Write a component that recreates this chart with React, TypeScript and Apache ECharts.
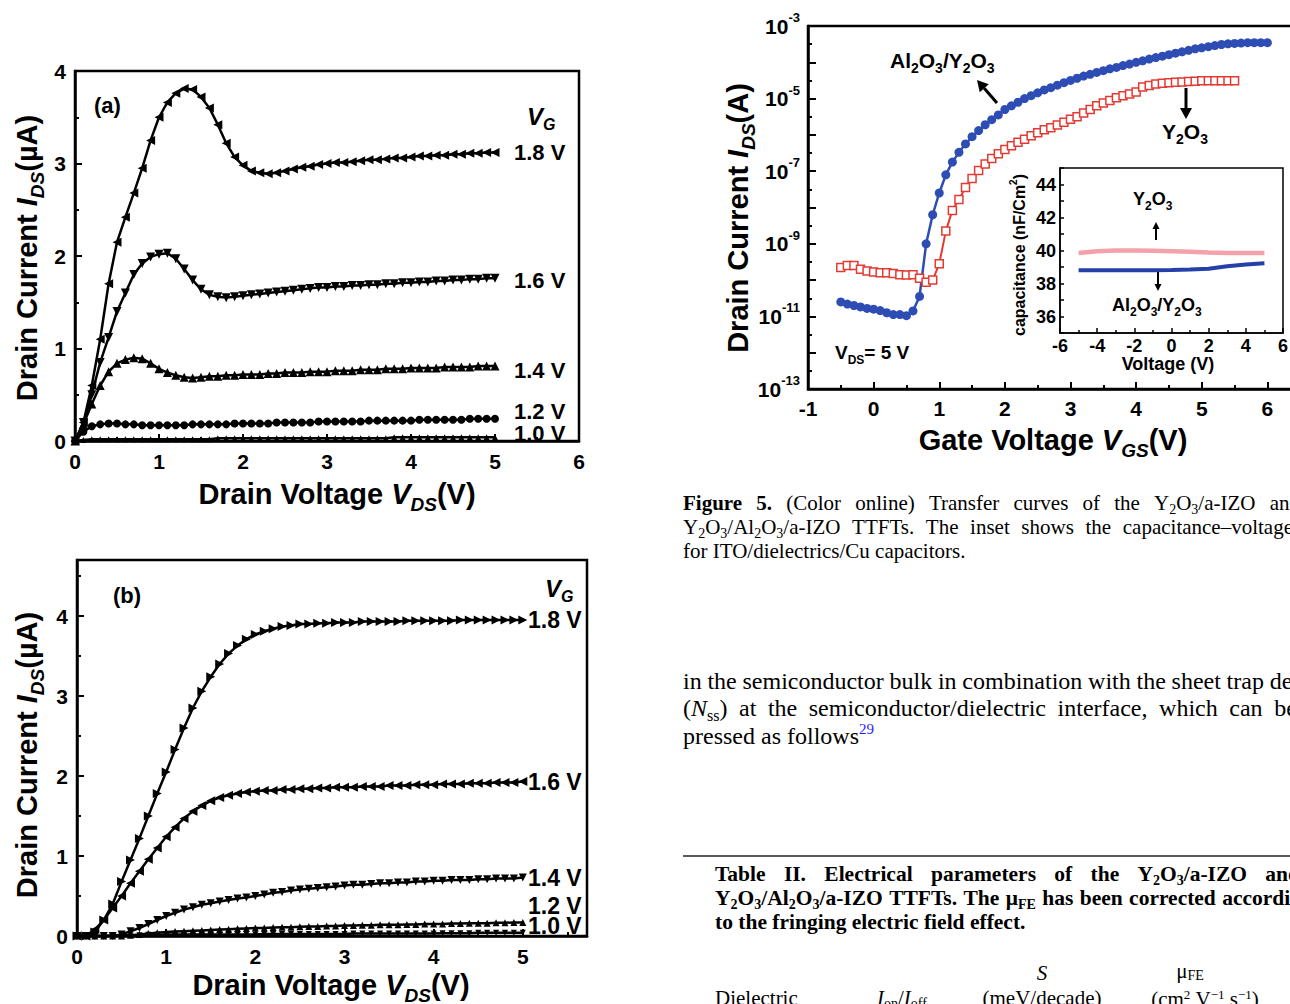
import React, { useEffect, useRef } from "react";
import * as echarts from "echarts";

const SANS = "'Liberation Sans', Arial, sans-serif";
const SERIF = "'Liberation Serif', 'Times New Roman', serif";

// ---------------- data ----------------
// Output curves: drain voltage grid (V)
const VDS = Array.from({ length: 51 }, (_, i) => i / 10);
const VG_LABELS = ["1.8 V", "1.6 V", "1.4 V", "1.2 V", "1.0 V"];

// (a) Y2O3 device, I_DS in µA
const A_18 = [0, 0.2, 0.6, 1.1, 1.7, 2.15, 2.42, 2.68, 2.95, 3.25, 3.5,
  3.66, 3.76, 3.81, 3.8, 3.72, 3.6, 3.42, 3.22, 3.07, 2.98,
  2.92, 2.9, 2.89, 2.9, 2.92, 2.94, 2.96, 2.97, 2.99, 3.0,
  3.01, 3.01, 3.02, 3.03, 3.04, 3.04, 3.05, 3.06, 3.06, 3.07,
  3.08, 3.08, 3.09, 3.09, 3.1, 3.1, 3.11, 3.11, 3.12, 3.12];
const A_16 = [0, 0.2, 0.5, 0.85, 1.12, 1.4, 1.6, 1.8, 1.92, 1.99, 2.02,
  2.03, 1.97, 1.86, 1.74, 1.64, 1.58, 1.56, 1.55, 1.56, 1.57,
  1.58, 1.59, 1.6, 1.61, 1.62, 1.63, 1.64, 1.65, 1.66, 1.66,
  1.67, 1.67, 1.68, 1.68, 1.69, 1.69, 1.7, 1.7, 1.71, 1.71,
  1.72, 1.72, 1.73, 1.73, 1.74, 1.74, 1.75, 1.75, 1.76, 1.76];
const A_14 = [0, 0.18, 0.4, 0.6, 0.75, 0.84, 0.88, 0.9, 0.89, 0.84, 0.78,
  0.74, 0.71, 0.69, 0.68, 0.69, 0.7, 0.7, 0.71, 0.71, 0.72,
  0.72, 0.72, 0.73, 0.73, 0.74, 0.74, 0.74, 0.75, 0.75, 0.75,
  0.76, 0.76, 0.76, 0.77, 0.77, 0.77, 0.78, 0.78, 0.78, 0.79,
  0.79, 0.79, 0.79, 0.8, 0.8, 0.8, 0.8, 0.81, 0.81, 0.81];
const A_12 = [0, 0.1, 0.16, 0.18, 0.19, 0.19, 0.18, 0.18, 0.17, 0.17, 0.17,
  0.17, 0.17, 0.17, 0.18, 0.18, 0.18, 0.18, 0.18, 0.19, 0.19,
  0.19, 0.19, 0.19, 0.2, 0.2, 0.2, 0.2, 0.2, 0.21, 0.21,
  0.21, 0.21, 0.21, 0.21, 0.22, 0.22, 0.22, 0.22, 0.22, 0.22,
  0.23, 0.23, 0.23, 0.23, 0.23, 0.23, 0.24, 0.24, 0.24, 0.24];
const A_10 = [0, 0.01, 0.02, 0.02, 0.02, 0.02, 0.02, 0.02, 0.02, 0.02, 0.02,
  0.02, 0.02, 0.02, 0.02, 0.02, 0.02, 0.03, 0.03, 0.03, 0.03,
  0.03, 0.03, 0.03, 0.03, 0.03, 0.03, 0.03, 0.03, 0.03, 0.03,
  0.03, 0.03, 0.03, 0.03, 0.03, 0.03, 0.03, 0.04, 0.04, 0.04,
  0.04, 0.04, 0.04, 0.04, 0.04, 0.04, 0.04, 0.04, 0.04, 0.04];

// (b) Al2O3/Y2O3 device, I_DS in µA
const B_18 = [0, 0, 0.05, 0.2, 0.4, 0.68, 0.95, 1.22, 1.5, 1.78, 2.05,
  2.33, 2.6, 2.85, 3.06, 3.24, 3.4, 3.53, 3.63, 3.71, 3.77,
  3.81, 3.84, 3.87, 3.88, 3.9, 3.9, 3.91, 3.91, 3.92, 3.92,
  3.92, 3.93, 3.93, 3.93, 3.93, 3.93, 3.94, 3.94, 3.94, 3.94,
  3.94, 3.94, 3.95, 3.95, 3.95, 3.95, 3.95, 3.95, 3.95, 3.95];
const B_16 = [0, 0, 0.08, 0.2, 0.35, 0.5, 0.66, 0.81, 0.96, 1.1, 1.24,
  1.36, 1.47, 1.56, 1.63, 1.69, 1.73, 1.76, 1.78, 1.8, 1.81,
  1.82, 1.82, 1.83, 1.83, 1.84, 1.84, 1.85, 1.85, 1.86, 1.86,
  1.86, 1.87, 1.87, 1.87, 1.88, 1.88, 1.88, 1.89, 1.89, 1.89,
  1.9, 1.9, 1.9, 1.91, 1.91, 1.91, 1.92, 1.92, 1.92, 1.93];
const B_14 = [0, 0, 0, 0, 0, 0.02, 0.06, 0.1, 0.15, 0.2, 0.25,
  0.29, 0.33, 0.36, 0.39, 0.41, 0.43, 0.45, 0.47, 0.48, 0.5,
  0.52, 0.54, 0.55, 0.57, 0.58, 0.59, 0.6, 0.61, 0.62, 0.63,
  0.64, 0.64, 0.65, 0.66, 0.66, 0.67, 0.67, 0.68, 0.68, 0.69,
  0.69, 0.7, 0.7, 0.7, 0.71, 0.71, 0.72, 0.72, 0.72, 0.73];
const B_12 = [0, 0, 0, 0, 0, 0, 0.01, 0.02, 0.03, 0.04, 0.05,
  0.055, 0.06, 0.065, 0.07, 0.075, 0.08, 0.085, 0.09, 0.095, 0.1,
  0.1, 0.105, 0.11, 0.11, 0.115, 0.12, 0.12, 0.125, 0.125, 0.13,
  0.13, 0.135, 0.135, 0.14, 0.14, 0.14, 0.145, 0.145, 0.15, 0.15,
  0.15, 0.155, 0.155, 0.16, 0.16, 0.16, 0.165, 0.165, 0.17, 0.17];
const B_10 = [0, 0, 0, 0, 0.005, 0.01, 0.01, 0.01, 0.015, 0.015, 0.02,
  0.02, 0.02, 0.02, 0.02, 0.02, 0.02, 0.02, 0.02, 0.02, 0.02,
  0.025, 0.025, 0.025, 0.025, 0.025, 0.025, 0.025, 0.025, 0.025, 0.025,
  0.03, 0.03, 0.03, 0.03, 0.03, 0.03, 0.03, 0.03, 0.03, 0.03,
  0.035, 0.035, 0.035, 0.035, 0.04, 0.04, 0.04, 0.04, 0.04, 0.04];

// Transfer curves: gate voltage (V) and log10(I_DS / A)
const VGS_BILAYER = Array.from({ length: 66 }, (_, i) => (i - 5) / 10);
const VGS_Y2O3 = Array.from({ length: 61 }, (_, i) => (i - 5) / 10);
const LOG_IDS_BILAYER = [-10.6, -10.66, -10.7, -10.74, -10.78, -10.8, -10.84, -10.9, -10.95, -10.95, -10.98,
  -10.85, -10.45, -9.0, -8.2, -7.6, -7.1, -6.75, -6.48, -6.25, -6.05,
  -5.88, -5.72, -5.58, -5.45, -5.3, -5.2, -5.1, -5.0, -4.92, -4.84,
  -4.76, -4.7, -4.63, -4.56, -4.5, -4.44, -4.38, -4.33, -4.28, -4.23,
  -4.18, -4.14, -4.09, -4.05, -4.0, -3.96, -3.91, -3.87, -3.83, -3.79,
  -3.75, -3.71, -3.67, -3.63, -3.6, -3.57, -3.54, -3.51, -3.49, -3.48,
  -3.47, -3.46, -3.46, -3.46, -3.46];
const LOG_IDS_Y2O3 = [-9.65, -9.6, -9.6, -9.7, -9.75, -9.78, -9.8, -9.8, -9.82, -9.85, -9.86,
  -9.85, -9.95, -10.06, -10.0, -9.55, -8.65, -8.08, -7.78, -7.45, -7.2,
  -6.98, -6.8, -6.65, -6.52, -6.4, -6.3, -6.2, -6.12, -6.02, -5.94,
  -5.86, -5.8, -5.73, -5.65, -5.57, -5.5, -5.4, -5.3, -5.2, -5.12,
  -5.05, -4.98, -4.92, -4.87, -4.82, -4.68, -4.64, -4.6, -4.58, -4.56,
  -4.55, -4.54, -4.53, -4.52, -4.51, -4.51, -4.51, -4.51, -4.51, -4.51];

// Inset C-V (nF/cm²)
const CV_VOLT = [-5, -4, -3, -2, -1, 0, 1, 2, 3, 4, 5];
const CAP_Y2O3 = [39.85, 39.95, 40.0, 40.0, 39.98, 39.95, 39.92, 39.88, 39.85, 39.85, 39.85];
const CAP_BILAYER = [38.8, 38.8, 38.8, 38.8, 38.8, 38.82, 38.85, 38.9, 39.05, 39.15, 39.22];

// ---------------- helpers ----------------
const RICH_KEYS: Record<string, { scale: number; italic?: boolean; bold?: boolean }> = {
  s: { scale: 0.65 }, si: { scale: 0.65, italic: true }, p: { scale: 0.62 }, pb: { scale: 0.62 },
  i: { scale: 1, italic: true }, b: { scale: 1, bold: true },
};

function richFor(size: number, family: string, weight: string) {
  const ss = Math.round(size * 0.65);
  const ps = Math.round(size * 0.62);
  const base = { fontFamily: family, fill: "#000" };
  return {
    i: { ...base, fontSize: size, fontWeight: weight, fontStyle: "italic" },
    b: { ...base, fontSize: size, fontWeight: "bold" },
    s: { ...base, fontSize: ss, fontWeight: weight, lineHeight: ss, verticalAlign: "bottom" },
    si: { ...base, fontSize: ss, fontWeight: weight, fontStyle: "italic", lineHeight: ss, verticalAlign: "bottom" },
    p: { ...base, fontSize: ps, fontWeight: weight, lineHeight: ps, verticalAlign: "top" },
    pb: { ...base, fill: "#1f1fff", fontSize: ps, fontWeight: weight, lineHeight: ps, verticalAlign: "top" },
  };
}

let mctx: CanvasRenderingContext2D | null = null;
function measurePlain(t: string, size: number, family: string, weight: string, italic: boolean) {
  if (!mctx) mctx = document.createElement("canvas").getContext("2d");
  mctx!.font = `${italic ? "italic" : "normal"} ${weight} ${size}px ${family}`;
  return mctx!.measureText(t).width;
}
function measureRich(str: string, size: number, family: string, weight: string) {
  const re = /\{(\w+)\|([^}]*)\}/g;
  let w = 0, last = 0;
  let m: RegExpExecArray | null;
  while ((m = re.exec(str)) !== null) {
    if (m.index > last) w += measurePlain(str.slice(last, m.index), size, family, weight, false);
    const k = RICH_KEYS[m[1]] || { scale: 1 };
    w += measurePlain(m[2], Math.round(size * k.scale), family, k.bold ? "bold" : weight, !!k.italic);
    last = re.lastIndex;
  }
  if (last < str.length) w += measurePlain(str.slice(last), size, family, weight, false);
  return w;
}

type TO = { size?: number; family?: string; weight?: string; italic?: boolean; align?: string; va?: string; lh?: number; rot?: number; fill?: string };
function T(x: number, y: number, text: string, o: TO = {}) {
  const size = o.size ?? 21;
  const family = o.family ?? SANS;
  const weight = o.weight ?? "bold";
  return {
    type: "text", x, y, rotation: o.rot ?? 0, silent: true, z: 100,
    style: {
      text, fill: o.fill ?? "#000", fontSize: size, fontFamily: family, fontWeight: weight,
      fontStyle: o.italic ? "italic" : "normal", align: o.align ?? "left", verticalAlign: o.va ?? "middle",
      lineHeight: o.lh ?? Math.round(size * 1.3), rich: richFor(size, family, weight),
    },
  };
}
function justify(words: string[], x0: number, x1: number, y: number, o: TO) {
  const size = o.size ?? 21, family = o.family ?? SERIF, weight = o.weight ?? "normal";
  const widths = words.map((w) => measureRich(w, size, family, weight));
  const total = widths.reduce((a, b) => a + b, 0);
  const gap = words.length > 1 ? (x1 - x0 - total) / (words.length - 1) : 0;
  const out: any[] = [];
  let x = x0;
  words.forEach((w, i) => {
    out.push(T(x, y, w, { ...o, size, family, weight }));
    x += widths[i] + gap;
  });
  return out;
}
function arrow(x1: number, y1: number, x2: number, y2: number, head = 10, halfW = 5, lw = 2.5) {
  const dx = x2 - x1, dy = y2 - y1, L = Math.hypot(dx, dy), ux = dx / L, uy = dy / L;
  const bx = x2 - ux * head, by = y2 - uy * head;
  return [
    { type: "line", z: 100, silent: true, shape: { x1, y1, x2: bx, y2: by }, style: { stroke: "#000", lineWidth: lw } },
    { type: "polygon", z: 100, silent: true, shape: { points: [[x2, y2], [bx - uy * halfW, by + ux * halfW], [bx + uy * halfW, by - ux * halfW]] }, style: { fill: "#000" } },
  ];
}
const pairs = (xs: number[], ys: number[]) => xs.map((x, i) => [x, ys[i]]);

function axis(gridIndex: number, min: number, max: number, interval: number, fmt: any, o: any = {}) {
  return {
    type: "value", gridIndex, min, max, interval,
    axisLine: { show: true, onZero: false, lineStyle: { color: "#000", width: o.lw ?? 2.5 } },
    axisTick: { show: true, inside: true, length: o.tl ?? 7, lineStyle: { color: "#000", width: o.tw ?? 2 } },
    minorTick: { show: (o.minor ?? 2) > 0, splitNumber: o.minor ?? 2, length: o.ml ?? 4, lineStyle: { color: "#000", width: o.tw ?? 2 } },
    splitLine: { show: false },
    minorSplitLine: { show: false },
    axisLabel: {
      show: true, formatter: fmt, color: "#000", fontFamily: SANS, fontWeight: "bold",
      fontSize: o.fs ?? 21, margin: o.margin ?? 8, rich: o.rich,
    },
  };
}
const intFmt = (v: number) => (Math.abs(v - Math.round(v)) < 1e-6 ? String(Math.round(v)) : "");

function outSeries(idx: number, ys: number[], symbol: string, rotate: number, size: number) {
  return {
    type: "line", xAxisIndex: idx, yAxisIndex: idx, data: pairs(VDS, ys), symbol, symbolRotate: rotate,
    symbolSize: size, showSymbol: true, silent: true,
    lineStyle: { color: "#000", width: 2.5 }, itemStyle: { color: "#000" },
  };
}

function buildOption() {
  const BLUE = "#2d4db4";
  const RED = "#e23b33";
  const grids = [
    { left: 75, top: 71, width: 504, height: 370, show: true, borderColor: "#000", borderWidth: 2.5 },
    { left: 77, top: 560, width: 510, height: 376, show: true, borderColor: "#000", borderWidth: 2.5 },
    { left: 808, top: 26, width: 525, height: 363, show: true, borderColor: "#000", borderWidth: 2.5 },
    { left: 1060, top: 168, width: 223, height: 165, show: true, borderColor: "#000", borderWidth: 1.5, backgroundColor: "#fff" },
  ];
  const xAxis = [
    axis(0, 0, 6, 1, intFmt, { margin: 10 }),
    axis(1, 0, 5.72, 1, intFmt, { margin: 10 }),
    axis(2, -1, 7, 1, (v: number) => (v <= 6 ? intFmt(v) : ""), { margin: 9 }),
    axis(3, -6, 6, 2, intFmt, { fs: 18, margin: 4, lw: 1.5, tw: 1.5, tl: 5, ml: 3 }),
  ];
  const yAxis = [
    axis(0, 0, 4, 1, intFmt, { margin: 9 }),
    axis(1, 0, 4.7, 1, intFmt, { margin: 9 }),
    axis(2, -13, -3, 1, (v: number) => (Math.round(v) % 2 !== 0 ? `{b|10}{p|${Math.round(v)}}` : ""), {
      margin: 8, tl: 8, ml: 4,
      rich: {
        b: { fontSize: 21, fontWeight: "bold", fontFamily: SANS, color: "#000", lineHeight: 30 },
        p: { fontSize: 13, fontWeight: "bold", fontFamily: SANS, color: "#000", lineHeight: 13, verticalAlign: "top" },
      },
    }),
    axis(3, 35, 45, 1, (v: number) => (Math.round(v) % 2 === 0 ? String(Math.round(v)) : ""), { fs: 18, margin: 4, lw: 1.5, tw: 1.5, tl: 4, minor: 0 }),
  ];
  const series: any[] = [
    outSeries(0, A_18, "triangle", 90, 9),
    outSeries(0, A_16, "triangle", 180, 9),
    outSeries(0, A_14, "triangle", 0, 9),
    outSeries(0, A_12, "circle", 0, 8),
    outSeries(0, A_10, "triangle", 0, 6),
    outSeries(1, B_18, "triangle", -90, 9),
    outSeries(1, B_16, "triangle", 90, 9),
    outSeries(1, B_14, "triangle", 180, 8),
    outSeries(1, B_12, "triangle", 0, 7),
    outSeries(1, B_10, "triangle", 180, 6),
    {
      type: "line", xAxisIndex: 2, yAxisIndex: 2, data: pairs(VGS_Y2O3, LOG_IDS_Y2O3), symbol: "rect", symbolSize: 8,
      silent: true, lineStyle: { color: RED, width: 2 }, itemStyle: { color: "#fff", borderColor: RED, borderWidth: 1.5 },
    },
    {
      type: "line", xAxisIndex: 2, yAxisIndex: 2, data: pairs(VGS_BILAYER, LOG_IDS_BILAYER), symbol: "circle", symbolSize: 9,
      silent: true, lineStyle: { color: BLUE, width: 2.5 }, itemStyle: { color: BLUE },
    },
    {
      type: "line", xAxisIndex: 3, yAxisIndex: 3, data: pairs(CV_VOLT, CAP_Y2O3), showSymbol: false, silent: true,
      lineStyle: { color: "#f2a2a8", width: 4.5 },
    },
    {
      type: "line", xAxisIndex: 3, yAxisIndex: 3, data: pairs(CV_VOLT, CAP_BILAYER), showSymbol: false, silent: true,
      lineStyle: { color: "#2540a8", width: 4 },
    },
  ];

  const g: any[] = [];
  // ---- panel (a) ----
  g.push(T(94, 105, "(a)", { size: 22 }));
  g.push(T(527, 116, "{i|V}{si|G}", { size: 24, lh: 32 }));
  const aLabelY = [152, 280, 370, 411, 433];
  VG_LABELS.forEach((t, i) => g.push(T(514, aLabelY[i], t, { size: 22 })));
  g.push(T(337, 494, "Drain Voltage {i|V}{si|DS}(V)", { size: 29, align: "center", lh: 40 }));
  g.push(T(27, 258, "Drain Current {i|I}{si|DS}(µA)", { size: 29, align: "center", lh: 40, rot: Math.PI / 2 }));
  // ---- panel (b) ----
  g.push(T(113, 595, "(b)", { size: 22 }));
  g.push(T(545, 588, "{i|V}{si|G}", { size: 24, lh: 32 }));
  const bLabelY = [620, 782, 878, 906, 926];
  VG_LABELS.forEach((t, i) => g.push(T(528, bLabelY[i], t, { size: 23 })));
  g.push(T(331, 985, "Drain Voltage {i|V}{si|DS}(V)", { size: 29, align: "center", lh: 40 }));
  g.push(T(27, 755, "Drain Current {i|I}{si|DS}(µA)", { size: 29, align: "center", lh: 40, rot: Math.PI / 2 }));
  // ---- transfer plot ----
  g.push(T(1053, 440, "Gate Voltage {i|V}{si|GS}(V)", { size: 29, align: "center", lh: 40 }));
  g.push(T(738, 218, "Drain Current {i|I}{si|DS}(A)", { size: 29, align: "center", lh: 40, rot: Math.PI / 2 }));
  g.push(T(890, 60, "Al{s|2}O{s|3}/Y{s|2}O{s|3}", { size: 21, lh: 30 }));
  g.push(...arrow(997, 103, 977, 80, 11, 6, 3));
  g.push(T(1162, 131, "Y{s|2}O{s|3}", { size: 21, lh: 30 }));
  g.push(...arrow(1186, 88, 1186, 119, 11, 6, 3));
  g.push(T(835, 352, "V{s|DS}= 5 V", { size: 19, lh: 28 }));
  // ---- inset ----
  g.push(T(1133, 199, "Y{s|2}O{s|3}", { size: 18, lh: 26 }));
  g.push(...arrow(1156, 240, 1156, 222, 7, 3.5, 2));
  g.push(T(1112, 305, "Al{s|2}O{s|3}/Y{s|2}O{s|3}", { size: 18, lh: 26 }));
  g.push(...arrow(1158, 272, 1158, 291, 7, 3.5, 2));
  g.push(T(1168, 364, "Voltage (V)", { size: 18, align: "center" }));
  g.push(T(1019, 255, "capacitance (nF/Cm{p|2})", { size: 16, align: "center", lh: 22, rot: Math.PI / 2 }));

  // ---- page text: figure caption ----
  const cap = { size: 21, family: SERIF, weight: "normal", lh: 27 };
  g.push(...justify(["{b|Figure}", "{b|5.}", "(Color", "online)", "Transfer", "curves", "of", "the", "Y{s|2}O{s|3}/a-IZO", "and"], 683, 1300, 503, cap));
  g.push(...justify(["Y{s|2}O{s|3}/Al{s|2}O{s|3}/a-IZO", "TTFTs.", "The", "inset", "shows", "the", "capacitance–voltage"], 683, 1293, 527, cap));
  g.push(T(683, 551, "for ITO/dielectrics/Cu capacitors.", cap));
  // ---- body paragraph ----
  const body = { size: 24, family: SERIF, weight: "normal", lh: 30 };
  g.push(...justify("in the semiconductor bulk in combination with the sheet trap density".split(" "), 683, 1339, 681, body));
  g.push(...justify(["({i|N}{s|ss})", "at", "the", "semiconductor/dielectric", "interface,", "which", "can", "be", "ex-"], 683, 1339, 708, body));
  g.push(T(683, 736, "pressed as follows{pb|29}", body));
  // ---- table ----
  g.push({ type: "line", z: 100, silent: true, shape: { x1: 683, y1: 856, x2: 1290, y2: 856 }, style: { stroke: "#222", lineWidth: 1.5 } });
  const tb = { size: 21.5, family: SERIF, weight: "bold", lh: 27 };
  g.push(...justify(["Table", "II.", "Electrical", "parameters", "of", "the", "Y{s|2}O{s|3}/a-IZO", "and"], 715, 1300, 874, tb));
  g.push(...justify(["Y{s|2}O{s|3}/Al{s|2}O{s|3}/a-IZO", "TTFTs.", "The", "μ{s|FE}", "has", "been", "corrected", "according"], 715, 1313, 898, tb));
  g.push(T(715, 922, "to the fringing electric field effect.", tb));
  const th = { size: 21, family: SERIF, weight: "normal", lh: 25 };
  g.push(T(1042, 973, "{i|S}", { ...th, align: "center" }));
  g.push(T(1190, 971, "μ{s|FE}", { ...th, align: "center", lh: 22 }));
  g.push(T(715, 998, "Dielectric", th));
  g.push(T(877, 998, "{i|I}{s|on}/{i|I}{s|off}", th));
  g.push(T(1042, 998, "(meV/decade)", { ...th, align: "center" }));
  g.push(T(1205, 999, "(cm{p|2} V{p|−1} s{p|−1})", { ...th, align: "center", lh: 23 }));

  return {
    animation: false,
    backgroundColor: "#fff",
    grid: grids,
    xAxis,
    yAxis,
    series,
    graphic: g,
  };
}

export default function App() {
  const ref = useRef<HTMLDivElement>(null);
  useEffect(() => {
    if (!ref.current) return;
    const chart = echarts.init(ref.current, undefined, { renderer: "svg" });
    chart.setOption(buildOption() as any);
    return () => chart.dispose();
  }, []);
  return (
    <div style={{ position: "absolute", left: 0, top: 0, width: 1290, height: 1004, overflow: "hidden", background: "#fff" }}>
      <div ref={ref} style={{ width: 1340, height: 1004 }} />
    </div>
  );
}
